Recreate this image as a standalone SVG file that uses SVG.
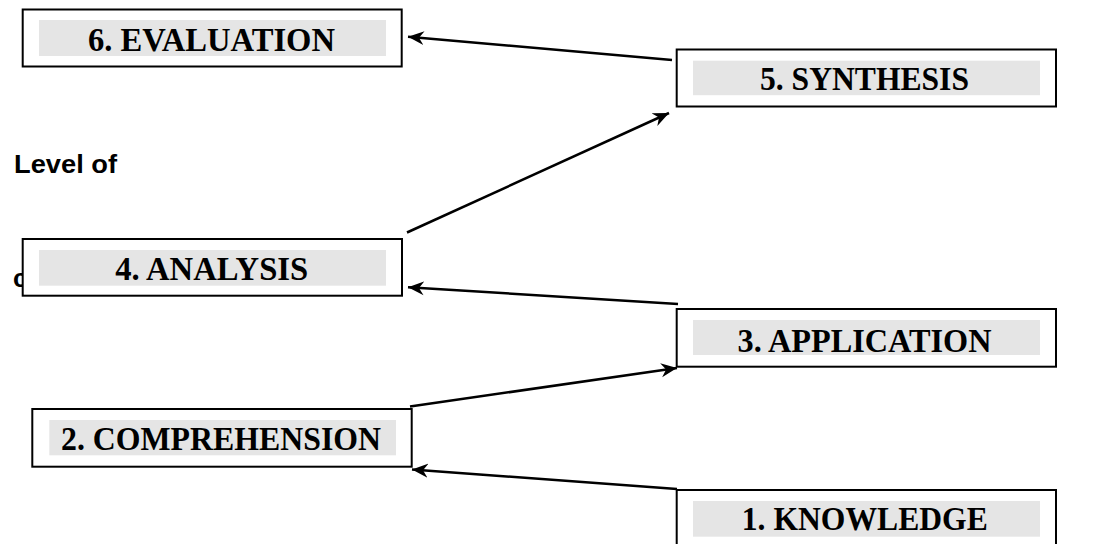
<svg xmlns="http://www.w3.org/2000/svg" width="1106" height="544" viewBox="0 0 1106 544">
<defs>
<style>
.box{fill:#fff;stroke:#000;stroke-width:2}
.band{fill:#e5e5e5;stroke:none}
.lbl{font-family:"Liberation Serif","Times New Roman",serif;font-weight:bold;font-size:33px;fill:#000;text-anchor:middle}
.side{font-family:"Liberation Sans",Arial,sans-serif;font-weight:bold;font-size:26px;fill:#000}
.conn{stroke:#000;stroke-width:2.5;fill:none;marker-end:url(#ah)}
</style>
<marker id="ah" markerUnits="userSpaceOnUse" markerWidth="18" markerHeight="16" refX="16" refY="7" orient="auto" viewBox="0 0 18 14">
<path d="M0,0 L16,7 L0,14 L5,7 Z" fill="#000"/>
</marker>
</defs>
<g id="side-text">
<text class="side" x="14" y="173" textLength="103" lengthAdjust="spacingAndGlyphs">Level of</text>
<text class="side" x="13" y="287">c</text>
</g>
<g id="connectors">
<line class="conn" x1="672" y1="60" x2="408" y2="36.7"/>
<line class="conn" x1="407" y1="232.5" x2="669" y2="113"/>
<line class="conn" x1="678" y1="304" x2="408" y2="287.3"/>
<line class="conn" x1="410" y1="406.5" x2="677" y2="368"/>
<line class="conn" x1="677" y1="489" x2="412" y2="469.5"/>
</g>
<g id="n6">
<rect class="box" x="22.7" y="9.5" width="379" height="57"/>
<rect class="band" x="39" y="20" width="347" height="36"/>
<text class="lbl" x="211.5" y="50.7" textLength="247" lengthAdjust="spacingAndGlyphs">6. EVALUATION</text>
</g>
<g id="n5">
<rect class="box" x="676.7" y="49.5" width="379.3" height="57"/>
<rect class="band" x="693" y="60.7" width="347" height="34.5"/>
<text class="lbl" x="864.5" y="90" textLength="209" lengthAdjust="spacingAndGlyphs">5. SYNTHESIS</text>
</g>
<g id="n4">
<rect class="box" x="22.7" y="239" width="379.3" height="56.7"/>
<rect class="band" x="39" y="250" width="347" height="35.7"/>
<text class="lbl" x="211.7" y="280" textLength="193" lengthAdjust="spacingAndGlyphs">4. ANALYSIS</text>
</g>
<g id="n3">
<rect class="box" x="676.7" y="309" width="379.3" height="57.7"/>
<rect class="band" x="693" y="320" width="347" height="35"/>
<text class="lbl" x="864.5" y="351.5" textLength="254" lengthAdjust="spacingAndGlyphs">3. APPLICATION</text>
</g>
<g id="n2">
<rect class="box" x="32.3" y="409" width="379.4" height="57.7"/>
<rect class="band" x="49.3" y="420" width="346.7" height="35.3"/>
<text class="lbl" x="221" y="450" textLength="320" lengthAdjust="spacingAndGlyphs">2. COMPREHENSION</text>
</g>
<g id="n1">
<rect class="box" x="676.7" y="490" width="379.3" height="60"/>
<rect class="band" x="693" y="501" width="347" height="35.7"/>
<text class="lbl" x="864.8" y="530" textLength="246" lengthAdjust="spacingAndGlyphs">1. KNOWLEDGE</text>
</g>
</svg>
